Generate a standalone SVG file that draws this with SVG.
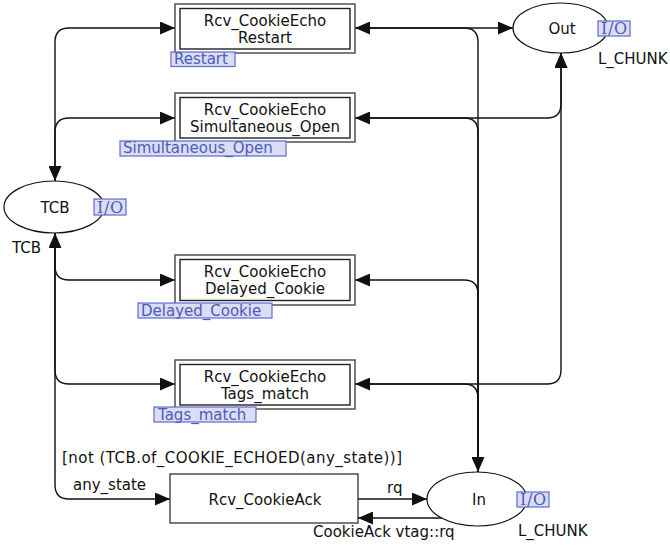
<svg xmlns="http://www.w3.org/2000/svg" width="670" height="546" viewBox="0 0 670 546">
  <defs>
    <marker id="arrow" viewBox="0 0 15 13" refX="15" refY="6.5" markerWidth="15" markerHeight="13" markerUnits="userSpaceOnUse" orient="auto-start-reverse">
      <path d="M0,0 L15,6.5 L0,13 Z" fill="#111"/>
    </marker>
    <style>
      text { font-family: "DejaVu Sans", Verdana, sans-serif; font-size: 15px; fill: #111; }
      .mid { text-anchor: middle; }
      .outer { fill: #fff; stroke: #444; stroke-width: 1.4; }
      .inner { fill: #fff; stroke: #222; stroke-width: 1.4; }
      .plain { fill: #fff; stroke: #222; stroke-width: 1.2; }
      .place { fill: #fff; stroke: #111; stroke-width: 1.2; }
      .tag rect { fill: #dcdcf5; stroke: #5a6ccf; stroke-width: 1.2; }
      .tag text { fill: #4a5cb8; }
      .io text { font-family: "DejaVu Serif", serif; font-size: 16px; }
      .arc { fill: none; stroke: #111; stroke-width: 1.4; marker-end: url(#arrow); }
      .both { marker-start: url(#arrow); }
    </style>
  </defs>
  <rect width="670" height="546" fill="#fff"/>

  <!-- connectors -->
  <g id="arcs">
    <!-- TCB side -->
    <path class="arc both" d="M55,181 V42 Q55,28 69,28 H175"/>
    <path class="arc" d="M55,181 V132 Q55,118 69,118 H175"/>
    <path class="arc both" d="M55,233 V266 Q55,280 69,280 H175"/>
    <path class="arc" d="M55,233 V370 Q55,384 69,384 H175"/>
    <path class="arc" d="M55,233 V485 Q55,499 69,499 H170"/>
    <!-- to Out -->
    <path class="arc" d="M355,28 H513"/>
    <path class="arc" d="M355,118 H547 Q561,118 561,104 V53"/>
    <path class="arc" d="M355,384 H547 Q561,384 561,370 V53"/>
    <!-- from In -->
    <path class="arc both" d="M478,472 V42 Q478,28 464,28 H355"/>
    <path class="arc" d="M478,472 V132 Q478,118 464,118 H355"/>
    <path class="arc" d="M478,472 V294 Q478,280 464,280 H355"/>
    <path class="arc" d="M478,472 V398 Q478,384 464,384 H355"/>
    <!-- Rcv_CookieAck <-> In -->
    <path class="arc" d="M358,499 H427"/>
    <path class="arc" d="M442,518 H358"/>
    <text x="62" y="463.3" textLength="340">[not (TCB.of_COOKIE_ECHOED(any_state))]</text>
    <text x="73" y="490">any_state</text>
    <text x="387" y="492.7">rq</text>
    <text x="313" y="536.5">CookieAck vtag::rq</text>
  </g>

  <!-- places -->
  <g id="place-TCB">
    <ellipse class="place" cx="54" cy="207" rx="50" ry="26"/>
    <text class="mid" x="55" y="212.5">TCB</text>
    <g class="tag io"><rect x="94" y="199" width="32" height="16"/><text x="97" y="213.3" textLength="26">I/O</text></g>
    <text x="12" y="252.5">TCB</text>
  </g>
  <g id="place-Out">
    <ellipse class="place" cx="560.5" cy="28" rx="47.5" ry="25"/>
    <text class="mid" x="562" y="33.5">Out</text>
    <g class="tag io"><rect x="598" y="21" width="32" height="15"/><text x="601" y="34.3" textLength="26">I/O</text></g>
    <text x="598" y="64">L_CHUNK</text>
  </g>
  <g id="place-In">
    <ellipse class="place" cx="477" cy="499" rx="50" ry="27"/>
    <text class="mid" x="479" y="504.5">In</text>
    <g class="tag io"><rect x="517" y="492" width="32" height="15"/><text x="520" y="505" textLength="26">I/O</text></g>
    <text x="518" y="535.5">L_CHUNK</text>
  </g>

  <!-- substitution transitions -->
  <g id="trans-Restart">
    <rect class="outer" x="175" y="4" width="180" height="49"/>
    <rect class="inner" x="180" y="8.5" width="170" height="40.5"/>
    <text class="mid" x="265" y="25.5">Rcv_CookieEcho</text>
    <text class="mid" x="265" y="42.5">Restart</text>
    <g class="tag"><rect x="171" y="52" width="64" height="14.5"/><text x="174" y="64.3">Restart</text></g>
  </g>
  <g id="trans-Simultaneous_Open">
    <rect class="outer" x="175" y="93" width="180" height="49"/>
    <rect class="inner" x="180" y="97.5" width="170" height="40.5"/>
    <text class="mid" x="265" y="114.5">Rcv_CookieEcho</text>
    <text class="mid" x="265" y="131.5">Simultaneous_Open</text>
    <g class="tag"><rect x="120" y="141" width="166" height="15"/><text x="123" y="153.3">Simultaneous_Open</text></g>
  </g>
  <g id="trans-Delayed_Cookie">
    <rect class="outer" x="175" y="255" width="180" height="50"/>
    <rect class="inner" x="180" y="259.5" width="170" height="41"/>
    <text class="mid" x="265" y="277">Rcv_CookieEcho</text>
    <text class="mid" x="265" y="294">Delayed_Cookie</text>
    <g class="tag"><rect x="138" y="303" width="134" height="15"/><text x="141" y="315.5">Delayed_Cookie</text></g>
  </g>
  <g id="trans-Tags_match">
    <rect class="outer" x="175" y="360" width="180" height="49"/>
    <rect class="inner" x="180" y="364.5" width="170" height="40.5"/>
    <text class="mid" x="265" y="381.5">Rcv_CookieEcho</text>
    <text class="mid" x="265" y="398.5">Tags_match</text>
    <g class="tag"><rect x="154" y="407" width="102" height="15"/><text x="158" y="420">Tags_match</text></g>
  </g>

  <!-- plain transition -->
  <g id="trans-Rcv_CookieAck">
    <rect class="plain" x="170" y="474" width="188" height="49"/>
    <text class="mid" x="265" y="504.5">Rcv_CookieAck</text>
  </g>
</svg>
